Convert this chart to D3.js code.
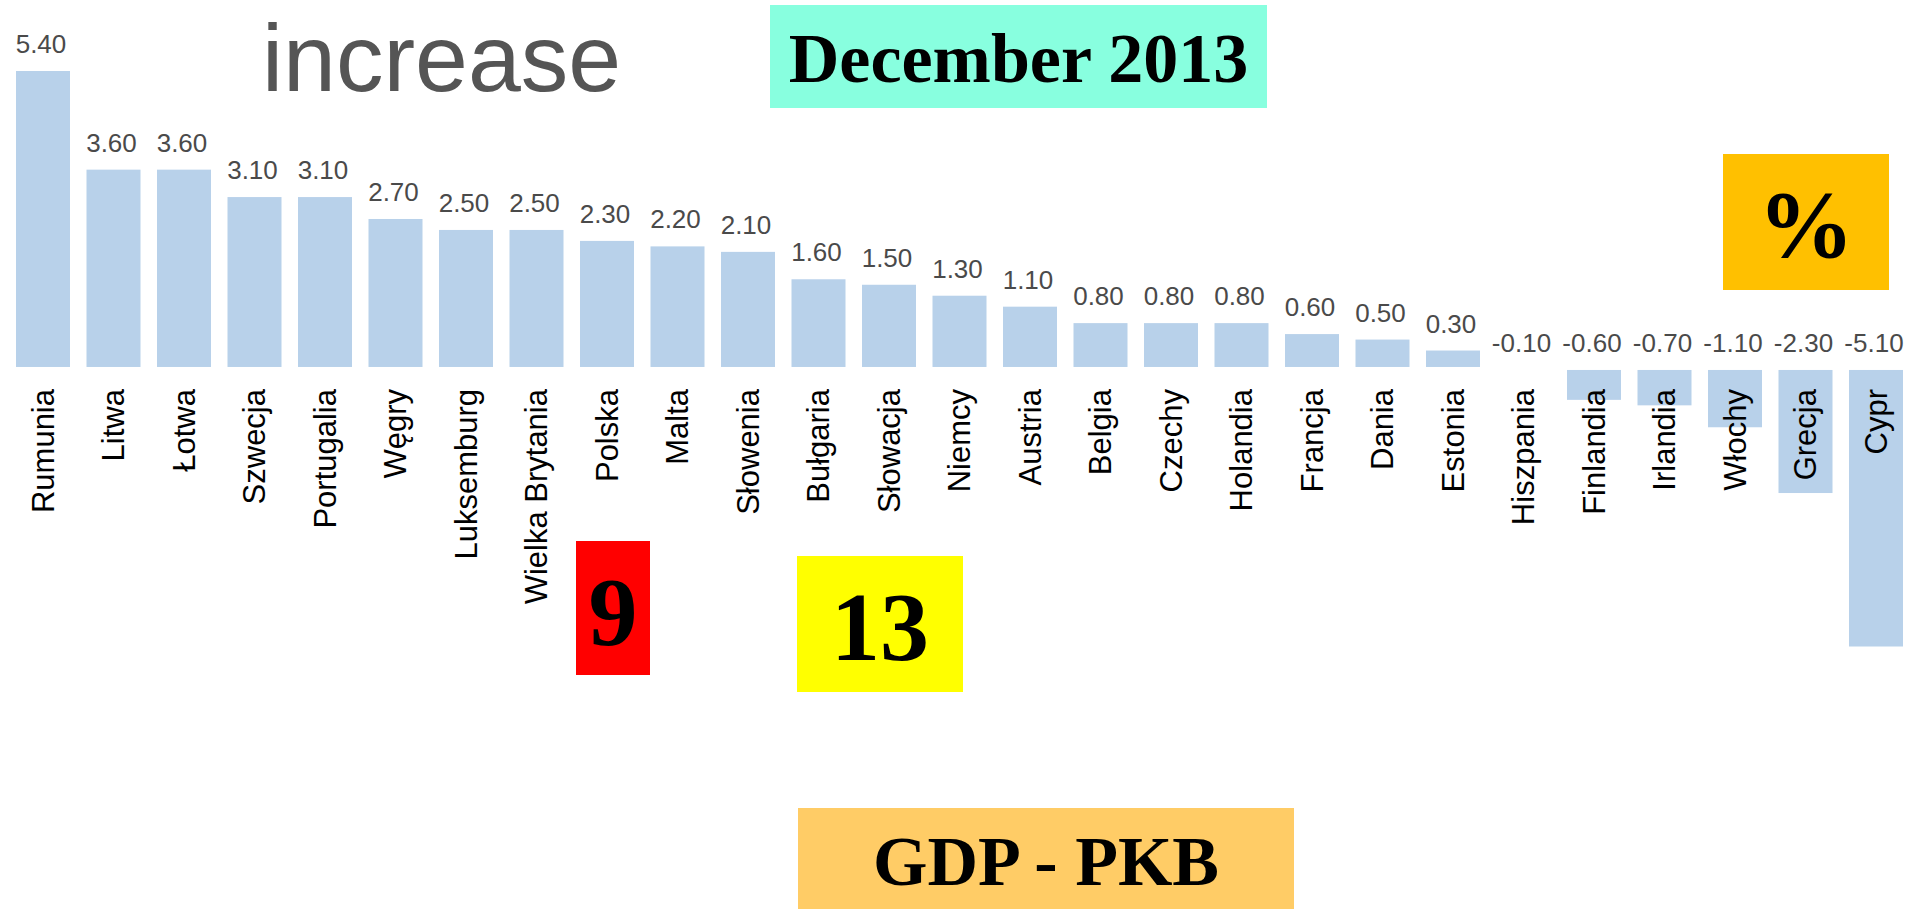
<!DOCTYPE html>
<html>
<head>
<meta charset="utf-8">
<script src="https://cdn.jsdelivr.net/npm/d3@7"></script>
<style>
  html, body { margin: 0; padding: 0; background: #fff; overflow: hidden; }
  svg { display: block; }
</style>
</head>
<body>
<svg id="chart"></svg>
<script>
const svgWidth = 1915;
const svgHeight = 909;

// GDP change, December 2013 (%)
const countries = ['Rumunia', 'Litwa', 'Łotwa', 'Szwecja', 'Portugalia', 'Węgry', 'Luksemburg',
  'Wielka Brytania', 'Polska', 'Malta', 'Słowenia', 'Bułgaria', 'Słowacja', 'Niemcy', 'Austria',
  'Belgia', 'Czechy', 'Holandia', 'Francja', 'Dania', 'Estonia', 'Hiszpania', 'Finlandia',
  'Irlandia', 'Włochy', 'Grecja', 'Cypr'];
const values = [5.4, 3.6, 3.6, 3.1, 3.1, 2.7, 2.5, 2.5, 2.3, 2.2, 2.1, 1.6, 1.5, 1.3, 1.1,
  0.8, 0.8, 0.8, 0.6, 0.5, 0.3, -0.1, -0.6, -0.7, -1.1, -2.3, -5.1];

const titleText = 'increase';
const dateText = 'December 2013';
const unitText = '%';
const footerText = 'GDP - PKB';
const rankPoland = '9';
const rankBulgaria = '13';

const data = countries.map((c, i) => ({ country: c, value: values[i] }));

const svg = d3.select('#chart')
  .attr('width', svgWidth)
  .attr('height', svgHeight);

const x = d3.scaleBand()
  .domain(countries)
  .range([16, 1903])
  .paddingInner(0.234)
  .paddingOuter(0);

const y = d3.scaleLinear()
  .domain([d3.min(values), d3.max(values)])
  .range([646.5, 71]);

const sans = "'Liberation Sans', Arial, sans-serif";
const serif = "'Liberation Serif', 'Times New Roman', serif";

// negative bars start a few px under the zero line; very short ones vanish
const gap = 3;
const negHeight = v => {
  const h = y(v) - y(0) - gap;
  return h < 3 ? 0 : h;
};

svg.append('g')
  .attr('fill', '#b8d1ea')
  .selectAll('rect')
  .data(data)
  .enter()
  .append('rect')
  .attr('x', d => x(d.country))
  .attr('width', x.bandwidth())
  .attr('y', d => (d.value >= 0 ? y(d.value) : y(0) + gap))
  .attr('height', d => (d.value >= 0 ? y(0) - y(d.value) : negHeight(d.value)));

// value labels (negatives sit just above the zero line)
svg.append('g')
  .attr('font-family', sans)
  .attr('font-size', 26)
  .attr('fill', '#4a4a4a')
  .attr('text-anchor', 'middle')
  .selectAll('text')
  .data(data)
  .enter()
  .append('text')
  .attr('x', d => x(d.country) + x.bandwidth() / 2 - 2)
  .attr('y', d => (d.value >= 0 ? y(d.value) - 18 : y(0) - 15))
  .text(d => d.value.toFixed(2));

// country labels
svg.append('g')
  .attr('font-family', sans)
  .attr('font-size', 31)
  .attr('fill', '#000')
  .attr('text-anchor', 'end')
  .selectAll('text')
  .data(data)
  .enter()
  .append('text')
  .attr('transform', d => `translate(${x(d.country) + x.bandwidth() / 2},389) rotate(-90)`)
  .attr('dy', '0.35em')
  .text(d => d.country);

// title
svg.append('text')
  .attr('x', 262)
  .attr('y', 91)
  .attr('font-family', sans)
  .attr('font-size', 95)
  .attr('fill', '#555')
  .text(titleText);

// coloured boxes with labels
const boxes = [
  { x: 770, y: 5, w: 497, h: 103, fill: '#88ffdf', text: dateText, size: 70, base: 82 },
  { x: 1723, y: 154, w: 166, h: 136, fill: '#ffc000', text: unitText, size: 96, base: 257 },
  { x: 576, y: 541, w: 74, h: 134, fill: '#ff0000', text: rankPoland, size: 98, base: 645 },
  { x: 797, y: 556, w: 166, h: 136, fill: '#ffff00', text: rankBulgaria, size: 98, base: 660 },
  { x: 798, y: 808, w: 496, h: 101, fill: '#ffcc66', text: footerText, size: 70, base: 885 },
];

const box = svg.append('g')
  .selectAll('g')
  .data(boxes)
  .enter()
  .append('g');

box.append('rect')
  .attr('x', d => d.x)
  .attr('y', d => d.y)
  .attr('width', d => d.w)
  .attr('height', d => d.h)
  .attr('fill', d => d.fill);

box.append('text')
  .attr('x', d => d.x + d.w / 2)
  .attr('y', d => d.base)
  .attr('text-anchor', 'middle')
  .attr('font-family', serif)
  .attr('font-weight', 'bold')
  .attr('font-size', d => d.size)
  .attr('fill', '#000')
  .text(d => d.text);
</script>
</body>
</html>
